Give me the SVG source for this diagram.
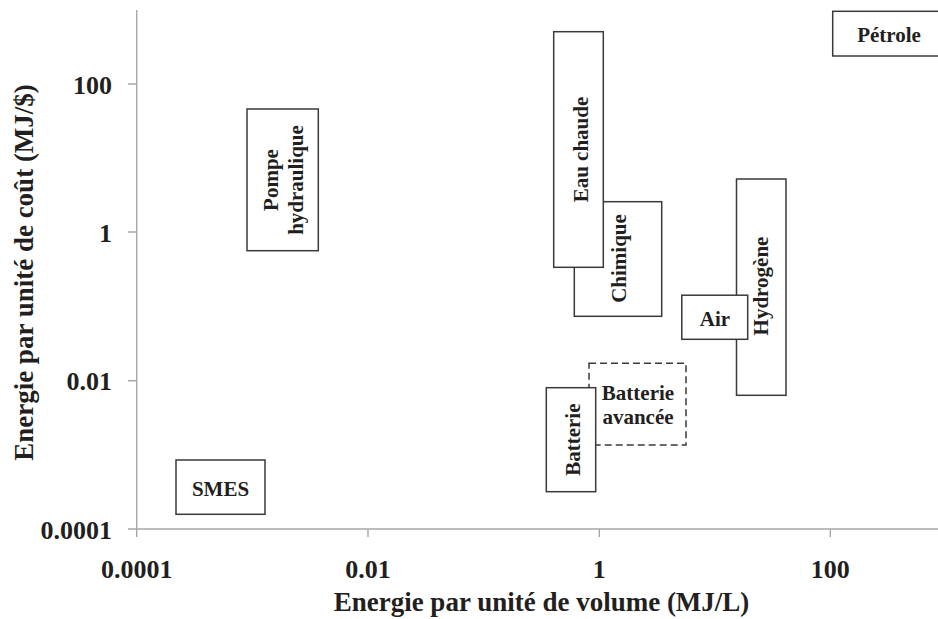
<svg xmlns="http://www.w3.org/2000/svg" width="938" height="619" viewBox="0 0 938 619">
<style>
text{font-family:"Liberation Serif","Times New Roman",serif;font-weight:bold;fill:#231f20}
.tick{font-size:26px}
.title{font-size:27px}
.lbl{font-size:21px;text-anchor:middle}
.box{fill:#fff;stroke:#3a3a3a;stroke-width:1.5}
.dash{fill:none;stroke:#3a3a3a;stroke-width:1.5;stroke-dasharray:7 4}
.axis{stroke:#a8a8a8;stroke-width:1.4;fill:none}
</style>
<rect width="938" height="619" fill="#fff"/>
<g id="axes">
<path class="axis" d="M136.7 10V537M128 529H938"/>
<path class="axis" d="M128 84H136.7M128 232H136.7M128 380.7H136.7M368 529V537M599.3 529V537M830.3 529V537"/>
<g class="tick" text-anchor="end">
<text x="112" y="93.5">100</text>
<text x="112" y="241.5">1</text>
<text x="112" y="390">0.01</text>
<text x="112" y="538.5">0.0001</text>
</g>
<g class="tick" text-anchor="middle">
<text x="136.7" y="577.5">0.0001</text>
<text x="368" y="577.5">0.01</text>
<text x="599.3" y="577.5">1</text>
<text x="830.3" y="577.5">100</text>
</g>
<text class="title" x="541.5" y="611" text-anchor="middle">Energie par unité de volume (MJ/L)</text>
<text class="title" transform="translate(33,272.5) rotate(-90)" text-anchor="middle">Energie par unité de coût (MJ/$)</text>
</g>
<g id="connectors"/>
<g id="node-pompe">
<rect class="box" x="247" y="109" width="71.3" height="141.7"/>
<text class="lbl" transform="translate(277.5,180) rotate(-90)">Pompe</text>
<text class="lbl" transform="translate(302.5,180) rotate(-90)">hydraulique</text>
</g>
<g id="node-smes">
<rect class="box" x="176" y="460" width="89" height="54.3"/>
<text class="lbl" x="220.5" y="495.5">SMES</text>
</g>
<g id="node-chimique">
<rect class="box" x="574.3" y="201.7" width="87.4" height="114.6"/>
<text class="lbl" transform="translate(626,258.5) rotate(-90)">Chimique</text>
</g>
<g id="node-eau-chaude">
<rect class="box" x="553.7" y="31.7" width="49.6" height="235.6"/>
<text class="lbl" transform="translate(588,149.5) rotate(-90)">Eau chaude</text>
</g>
<g id="node-hydrogene">
<rect class="box" x="736.5" y="179" width="49.5" height="216.3"/>
<text class="lbl" transform="translate(767.5,286) rotate(-90)">Hydrogène</text>
</g>
<g id="node-air">
<rect class="box" x="681.8" y="295.2" width="65.9" height="44.1"/>
<text class="lbl" x="715" y="326">Air</text>
</g>
<g id="node-batterie-avancee">
<rect class="dash" x="589" y="363.3" width="97" height="81.7"/>
<text class="lbl" x="638" y="399.5">Batterie</text>
<text class="lbl" x="638" y="424">avancée</text>
</g>
<g id="node-batterie">
<rect class="box" x="546.3" y="387.7" width="49.4" height="104"/>
<text class="lbl" transform="translate(580,439.7) rotate(-90)">Batterie</text>
</g>
<g id="node-petrole">
<rect class="box" x="832.7" y="11.3" width="115" height="44.7"/>
<text class="lbl" x="889" y="41.5">Pétrole</text>
</g>
</svg>
